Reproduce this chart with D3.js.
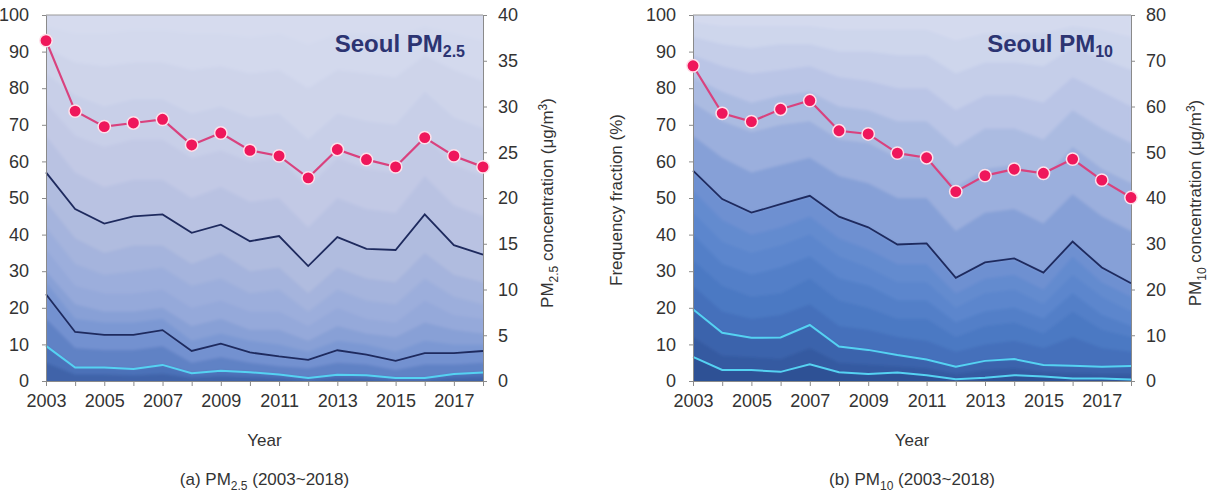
<!DOCTYPE html>
<html>
<head>
<meta charset="utf-8">
<script src="https://cdn.jsdelivr.net/npm/d3@7"></script>
<style>
  body { margin: 0; background: #fff; }
  text { font-family: "Liberation Sans", Arial, sans-serif; fill: #333; }
</style>
</head>
<body>
<div id="container"></div>
<script>
// years on the x axis
const years = [2003, 2004, 2005, 2006, 2007, 2008, 2009, 2010, 2011, 2012, 2013, 2014, 2015, 2016, 2017, 2018];

// PM2.5 annual mean (ug/m3, right axis)
const pm25Mean = [37.2, 29.5, 27.8, 28.2, 28.6, 25.8, 27.1, 25.2, 24.6, 22.2, 25.3, 24.2, 23.4, 26.6, 24.6, 23.4];
// highlighted frequency lines (%)
const pm25Dark1 = [57, 47, 43, 45, 45.5, 40.5, 42.7, 38.2, 39.6, 31.4, 39.3, 36.1, 35.8, 45.5, 37.1, 34.5];
const pm25Dark2 = [23.7, 13.4, 12.6, 12.6, 13.9, 8.2, 10.2, 7.8, 6.7, 5.8, 8.4, 7.2, 5.5, 7.6, 7.6, 8.2];
const pm25Cyan = [9.6, 3.7, 3.7, 3.3, 4.4, 2.1, 2.8, 2.4, 1.8, 0.8, 1.7, 1.6, 0.8, 0.8, 1.9, 2.3];
// background frequency bands (%)
const pm25Bands = [
  [97, 95, 95, 96, 96, 95, 95, 94, 95, 92, 95, 95, 94, 97, 95, 93],
  [91, 87, 86, 87, 87, 85, 86, 84, 85, 80, 85, 84, 83, 89, 85, 82],
  [84, 78, 75, 77, 77, 73, 75, 72, 73, 66, 73, 71, 70, 79, 72, 69],
  [76, 67, 64, 66, 66, 61, 63, 60, 61, 53, 61, 58, 57, 67, 59, 56],
  [67, 57, 53, 55, 55, 50, 53, 49, 50, 42, 50, 47, 46, 56, 48, 45],
  [49, 39, 35, 37, 37, 32, 35, 30, 31, 24, 31, 28, 27, 35, 29, 27],
  [42, 32, 29, 30, 31, 26, 28, 24, 25, 19, 25, 22, 21, 28, 23, 21],
  [36, 26, 24, 24, 25, 20, 22, 19, 19, 15, 20, 17, 16, 22, 18, 17],
  [30, 21, 19, 19, 20, 15, 17, 14, 14, 11, 15, 13, 12, 16, 14, 13],
  [27, 17, 16, 16, 17, 11, 13, 11, 10, 8, 11, 10, 8, 11, 10, 10],
  [17, 9, 8.5, 8.5, 9.5, 5, 6.5, 5, 4, 3.5, 5, 4.5, 3, 4.5, 4.5, 5],
  [5, 1.8, 1.8, 1.5, 2, 0.9, 1.3, 1, 0.8, 0.3, 0.8, 0.7, 0.3, 0.3, 0.8, 1]
];

// PM10 annual mean (ug/m3, right axis)
const pm10Mean = [68.9, 58.5, 56.7, 59.4, 61.3, 54.7, 54.0, 49.8, 48.8, 41.4, 44.9, 46.3, 45.4, 48.5, 43.9, 40.1];
const pm10Dark1 = [57.5, 49.7, 46.0, 48.3, 50.6, 44.9, 42.0, 37.3, 37.6, 28.2, 32.4, 33.5, 29.6, 38.1, 31.0, 26.7];
const pm10Cyan1 = [19.6, 13.2, 11.8, 11.9, 15.3, 9.4, 8.5, 7.1, 5.9, 3.9, 5.5, 6.0, 4.4, 4.2, 3.9, 4.1];
const pm10Cyan2 = [6.6, 3.0, 3.0, 2.5, 4.6, 2.4, 1.9, 2.3, 1.6, 0.5, 0.9, 1.6, 1.2, 0.7, 0.7, 0.4];
const pm10Bands = [
  [98, 97, 97, 97, 97, 96, 96, 96, 96, 93, 95, 95, 95, 97, 96, 94],
  [94, 92, 91, 92, 92, 90, 90, 89, 89, 84, 87, 87, 86, 91, 88, 85],
  [89, 86, 84, 85, 86, 83, 82, 80, 80, 74, 78, 78, 76, 83, 79, 75],
  [83, 79, 76, 78, 79, 75, 74, 71, 71, 64, 69, 69, 66, 74, 69, 65],
  [76, 71, 68, 70, 71, 66, 65, 61, 61, 53, 58, 59, 55, 64, 58, 54],
  [67, 61, 57, 59, 61, 56, 54, 50, 50, 41, 46, 47, 43, 51, 45, 41],
  [52, 44, 40, 42, 45, 39, 36, 32, 32, 24, 28, 29, 25, 34, 27, 23],
  [46, 38, 35, 37, 40, 34, 31, 27, 27, 20, 24, 25, 21, 29, 23, 19],
  [40, 32, 29, 31, 34, 28, 26, 22, 22, 16, 19, 20, 17, 24, 18, 15],
  [33, 26, 23, 24, 28, 22, 20, 17, 17, 12, 15, 16, 13, 19, 14, 12],
  [26, 19, 17, 18, 21, 15, 14, 12, 11, 8, 10, 11, 9, 12, 9, 8],
  [12, 7, 6.5, 6, 9, 5, 4.5, 4, 3.5, 2, 3, 3.5, 2.5, 2.2, 2, 2]
];

const fracTicks = [0, 10, 20, 30, 40, 50, 60, 70, 80, 90, 100];
const pm25Ticks = [0, 5, 10, 15, 20, 25, 30, 35, 40];
const pm10Ticks = [0, 10, 20, 30, 40, 50, 60, 70, 80];
const labelYears = [2003, 2005, 2007, 2009, 2011, 2013, 2015, 2017];

const W = 1212, H = 493;
const plotTop = 15, plotBottom = 381;

const svg = d3.select('#container').append('svg')
    .attr('width', W)
    .attr('height', H);
const defs = svg.append('defs');

function drawPanel(p) {
  const g = svg.append('g');
  const x = d3.scaleLinear().domain([2003, 2018]).range([p.x0, p.x1]);
  const y = d3.scaleLinear().domain([0, 100]).range([plotBottom, plotTop]);
  const y2 = d3.scaleLinear().domain([0, p.cmax]).range([plotBottom, plotTop]);

  // soft edges between the bands, kept opaque up to the plot border
  const f = defs.append('filter').attr('id', 'soft' + p.id)
      .attr('filterUnits', 'userSpaceOnUse')
      .attr('x', p.x0).attr('y', plotTop)
      .attr('width', p.x1 - p.x0).attr('height', plotBottom - plotTop);
  f.append('feGaussianBlur').attr('stdDeviation', 1.8);
  f.append('feComponentTransfer').append('feFuncA')
      .attr('type', 'table').attr('tableValues', '1 1');

  const bg = g.append('g').attr('filter', `url(#soft${p.id})`);
  bg.append('rect')
      .attr('x', p.x0).attr('y', plotTop)
      .attr('width', p.x1 - p.x0).attr('height', plotBottom - plotTop)
      .attr('fill', p.color(100));

  const bands = p.bands.concat(p.dark, p.cyan)
      .slice().sort((a, b) => d3.mean(b) - d3.mean(a));
  const area = d3.area()
      .x((d, i) => x(years[i]))
      .y0(y(0))
      .y1(d => y(d));
  bg.selectAll('path.band').data(bands).enter().append('path')
      .attr('class', 'band')
      .attr('d', area)
      .attr('fill', d => p.color(d3.mean(d)));

  const line = d3.line().x((d, i) => x(years[i])).y(d => y(d));
  p.dark.forEach(s => g.append('path').attr('d', line(s))
      .attr('fill', 'none').attr('stroke', '#1e2a5e').attr('stroke-width', 1.8));
  p.cyan.forEach(s => g.append('path').attr('d', line(s))
      .attr('fill', 'none').attr('stroke', '#55d2f2').attr('stroke-width', 2));

  // frame
  g.append('line').attr('x1', p.x0).attr('x2', p.x1).attr('y1', plotTop).attr('y2', plotTop)
      .attr('stroke', '#999').attr('stroke-width', 1);

  const axL = g.append('g').attr('transform', `translate(${p.x0},0)`)
      .call(d3.axisLeft(y).tickValues(fracTicks).tickSize(4).tickSizeOuter(0).tickPadding(13));
  const axR = g.append('g').attr('transform', `translate(${p.x1},0)`)
      .call(d3.axisRight(y2).tickValues(p.cticks).tickSize(4).tickSizeOuter(0).tickPadding(11));
  const axB = g.append('g').attr('transform', `translate(0,${plotBottom})`)
      .call(d3.axisBottom(x).tickValues(years).tickSize(5).tickSizeOuter(0).tickPadding(8)
        .tickFormat(d => labelYears.includes(d) ? d : ''));
  [axL, axR, axB].forEach(a => {
    a.selectAll('path, line').attr('stroke', '#8a8a8a');
    a.selectAll('text').style('font-size', '18px').style('font-family', '"Liberation Sans", Arial, sans-serif').attr('fill', '#333');
  });

  // annual mean concentration
  const cline = d3.line().x((d, i) => x(years[i])).y(d => y2(d));
  g.append('path').attr('d', cline(p.mean))
      .attr('fill', 'none').attr('stroke', '#d9427e').attr('stroke-width', 2.2);
  g.selectAll('circle').data(p.mean).enter().append('circle')
      .attr('cx', (d, i) => x(years[i]))
      .attr('cy', d => y2(d))
      .attr('r', 6.2)
      .attr('fill', '#ef175b')
      .attr('stroke', '#ffe0ea')
      .attr('stroke-width', 1.5);

  // panel title
  const t = g.append('text')
      .attr('x', p.x1 - 18).attr('y', 52)
      .attr('text-anchor', 'end')
      .style('font-size', '24px')
      .style('font-weight', 'bold')
      .style('fill', '#2c3472');
  t.append('tspan').text('Seoul PM');
  t.append('tspan').attr('dy', 5).style('font-size', '16px').text(p.sub);

  // axis titles
  g.append('text')
      .attr('x', (p.x0 + p.x1) / 2).attr('y', 446)
      .attr('text-anchor', 'middle')
      .style('font-size', '17px')
      .text('Year');

  const rt = g.append('text')
      .attr('transform', `translate(${p.x1 + 70},203) rotate(-90)`)
      .attr('text-anchor', 'middle')
      .style('font-size', '17px');
  rt.append('tspan').text('PM');
  rt.append('tspan').attr('dy', 5).style('font-size', '12px').text(p.sub);
  rt.append('tspan').attr('dy', -5).text(' concentration (μg/m');
  rt.append('tspan').attr('dy', -6).style('font-size', '12px').text('3');
  rt.append('tspan').attr('dy', 6).text(')');

  if (p.leftTitle) {
    g.append('text')
        .attr('transform', `translate(${p.x0 - 71},200) rotate(-90)`)
        .attr('text-anchor', 'middle')
        .style('font-size', '17px')
        .text(p.leftTitle);
  }

  // caption
  const c = g.append('text')
      .attr('x', (p.x0 + p.x1) / 2).attr('y', 485)
      .attr('text-anchor', 'middle')
      .style('font-size', '17px');
  c.append('tspan').text(p.cap + ' PM');
  c.append('tspan').attr('dy', 5).style('font-size', '12px').text(p.sub);
  c.append('tspan').attr('dy', -5).text(' (2003~2018)');
}

drawPanel({
  id: 'a', x0: 46, x1: 483, cmax: 40, cticks: pm25Ticks,
  mean: pm25Mean, bands: pm25Bands, dark: [pm25Dark1, pm25Dark2], cyan: [pm25Cyan],
  sub: '2.5', cap: '(a)',
  color: d3.scaleLinear()
    .domain([0, 3, 10, 20, 40, 60, 100])
    .range(['#34569c', '#4d74bb', '#7391d0', '#93a8da', '#afbbdf', '#c1c8e4', '#d6dbee'])
});

drawPanel({
  id: 'b', x0: 693, x1: 1131, cmax: 80, cticks: pm10Ticks,
  mean: pm10Mean, bands: pm10Bands, dark: [pm10Dark1], cyan: [pm10Cyan1, pm10Cyan2],
  sub: '10', cap: '(b)', leftTitle: 'Frequency fraction (%)',
  color: d3.scaleLinear()
    .domain([0, 5, 15, 30, 45, 60, 80, 100])
    .range(['#2b4a8c', '#355ba2', '#4673bf', '#5b86cd', '#7896d3', '#96abdb', '#b8c4e5', '#d4daee'])
});
</script>
</body>
</html>
